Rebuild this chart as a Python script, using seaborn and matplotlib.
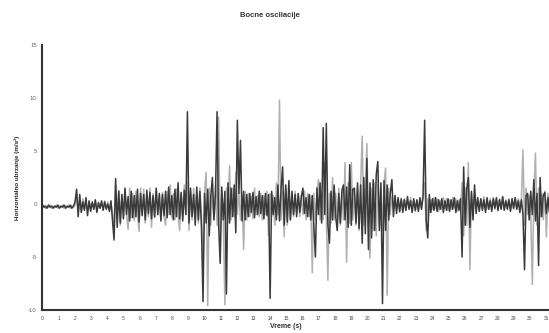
import numpy as np
import pandas as pd
import seaborn as sns
import matplotlib
matplotlib.use("Agg")
import matplotlib.pyplot as plt

# Bocne oscilacije - dva zapisa ubrzanja (tamni i svijetli)
korak = 0.096  # s, razmak uzoraka

tamni = [
    -0.1, -0.3, -0.2, -0.4, -0.1, -0.3, -0.2, -0.4, -0.2, -0.3,
    -0.1, -0.4, -0.2, -0.3, -0.1, -0.4, -0.2, -0.3, -0.1, -0.4,
    -0.2, 0.2, 1.4, -1.2, 0.9, -0.8, 0.2, -0.6, 0.6, -1.1,
    0.3, -0.7, 0.2, -0.5, 0.4, -0.8, 0.1, -0.4, 0.3, -0.6,
    0.2, -0.5, 0.0, -0.7, 0.3, -1.5, -3.4, 2.4, -2.2, 1.2,
    -1.8, 0.9, -1.4, 1.5, -1.0, 0.7, -1.6, 1.2, -1.3, 0.8,
    -1.2, 1.4, -1.7, 1.0, -1.1, 0.9, -1.5, 1.3, -0.9, 1.1,
    -1.4, 0.8, -1.2, 1.5, -1.0, 1.0, -1.6, 0.9, -1.1, 1.2,
    -1.3, 1.6, -1.0, 0.8, -1.5, 1.4, -1.2, 2.0, -1.4, 1.1,
    -1.6, 1.3, -1.0, 8.7, -1.8, 1.5, -1.2, 0.9, -2.0, 1.6,
    -1.5, 1.2, -2.2, -9.2, 1.0, -1.8, 1.4, -3.0, 0.8, 2.5,
    -1.5, 1.0, 8.7, -2.0, -5.6, 1.6, -1.5, 1.2, -8.5, 2.0,
    -1.8, 1.5, -1.2, 1.8, -2.7, 7.9, 1.0, 6.0, -1.6, 1.2,
    -1.5, 0.9, -1.2, 1.0, -0.8, 1.1, -1.3, 0.7, -1.0, 1.2,
    -0.9, 0.8, -1.4, 1.0, -1.1, 0.9, -8.9, 1.2, -1.0, 0.6,
    -1.5, 1.8, -1.6, 1.4, 3.5, -2.0, 1.8, -1.7, 2.2, -1.5,
    1.2, -1.0, 0.9, -1.2, 1.0, -0.8, 0.7, 1.5, -0.9, 0.6,
    -1.2, 0.9, -1.5, 0.8, -2.0, -5.0, 1.5, -1.0, 2.0, -1.8,
    7.2, -1.0, 7.6, -2.0, -3.7, 1.2, -1.5, 1.8, -1.2, -2.5,
    1.0, -1.8, 1.3, 1.8, -1.5, 1.6, -2.2, 3.7, -2.0, 1.4,
    1.5, -1.8, 2.0, -2.3, 1.8, -3.7, 2.5, -2.8, 4.3, -4.3,
    2.0, -3.2, 2.3, -2.5, 2.8, 4.0, -2.5, 2.0, -9.4, 2.2,
    -2.5, 1.8, -1.5, 1.0, 2.3, -1.2, 0.8, -0.9, 0.6, -0.7,
    0.5, -0.8, 0.4, -0.6, 0.7, -0.5, 0.3, -0.8, 0.5, -0.6,
    0.4, -0.7, 0.6, -0.5, 0.8, 7.9, -1.5, -3.2, 0.9, -0.8,
    0.5, -0.6, 0.6, -0.7, 0.4, -0.5, 0.5, -0.8, 0.3, -0.6,
    0.5, -0.7, 0.4, -0.5, 0.6, -0.8, 0.3, -0.6, 0.5, -5.0,
    3.5, -2.0, 1.5, 2.5, -2.2, 1.2, -1.5, 1.8, -0.9, 0.6,
    -0.7, 0.5, -0.6, 0.4, -0.8, 0.6, -0.5, 0.3, -0.7, 0.5,
    -0.4, 0.6, -0.6, 0.4, -0.5, 0.7, -0.6, 0.3, -0.5, 0.4,
    -0.7, 0.5, -0.4, 0.6, -0.5, 0.3, -0.8, 0.4, -1.0, -6.2,
    0.8, 1.0, -1.5, 1.2, -1.0, 2.3, -1.6, 1.0, -5.8, 2.5,
    -1.2, 0.8, 1.1, -0.9, 0.6, -0.8]

svijetli = [
    -0.3, -0.1, -0.4, -0.2, -0.3, -0.1, -0.4, -0.2, -0.3, -0.1,
    -0.4, -0.2, -0.3, -0.1, -0.4, -0.2, -0.3, -0.1, -0.4, -0.2,
    -0.3, -0.1, 1.0, -0.8, 0.3, -0.7, 0.5, -0.4, 0.3, -0.6,
    0.2, -0.3, 0.1, -0.5, 0.3, -0.6, 0.2, -0.4, 0.1, -0.5,
    0.3, -0.4, 0.2, -0.6, 0.1, -0.8, -2.5, 1.8, -1.5, 1.3,
    -2.0, 0.9, -1.2, 1.4, -1.0, -2.4, 1.5, -1.3, 1.0, -1.6,
    1.2, -1.0, -2.6, 1.5, -1.0, 1.4, -1.8, 0.8, -1.2, 1.5,
    -2.2, 1.0, -1.3, 1.2, -1.0, 0.8, -1.5, 1.1, -1.2, -2.0,
    1.2, -1.0, 1.8, -1.3, 1.0, -1.5, 1.4, -1.0, -2.5, 1.0,
    -1.2, 1.8, -1.0, 2.0, -2.5, 1.2, -1.5, 1.5, -1.2, 1.0,
    -1.8, 1.5, -1.0, -6.0, 1.2, 3.0, -9.6, 1.5, -2.0, 1.2,
    -1.5, 1.8, -2.0, 8.2, -3.0, 1.2, -1.5, -9.5, 1.5, -1.2,
    3.6, -1.5, 1.5, -1.2, 3.0, -1.0, 1.2, -1.5, 0.8, -4.3,
    1.2, -1.5, 1.0, -1.2, 0.7, -1.4, 1.5, -1.0, 0.8, -1.2,
    1.0, -1.5, 0.8, -1.0, 1.2, -3.0, 1.0, -1.2, 0.8, -2.0,
    2.0, -1.0, 9.8, -1.5, 1.2, -3.1, 1.5, -2.0, 1.0, -1.5,
    0.8, -1.2, 1.2, -0.8, 0.9, -1.2, 0.8, -1.0, 1.2, -1.5,
    1.0, -1.2, 0.8, -6.5, 1.0, -1.5, 1.2, 2.3, -1.5, 1.0,
    -1.5, 4.0, -1.2, -7.2, 1.0, -1.8, 2.5, -1.5, 1.0, -1.8,
    1.5, -2.0, 1.2, -1.5, 3.9, -5.5, 2.0, -1.8, 3.9, -1.5,
    1.0, -2.0, 1.5, -2.5, 2.0, 6.4, -2.0, 1.5, 5.7, -2.5,
    -5.1, 1.5, -2.5, 2.0, -3.0, 1.8, -2.0, 1.5, -2.5, 2.0,
    3.4, -8.6, 1.5, -1.0, 0.7, -0.5, 0.8, -0.4, 0.6, -0.8,
    0.4, -0.3, 0.5, -0.6, 0.4, -0.3, 0.6, -0.5, 0.4, -0.7,
    0.3, -0.5, 0.5, -0.4, 0.6, 2.0, -2.5, 0.5, -0.8, 0.4,
    -0.5, 0.6, -0.4, 0.5, -0.7, 0.3, -0.5, 0.6, -0.4, 0.5,
    -0.6, 0.4, -0.5, 0.6, -0.3, 0.5, -0.7, 0.4, -0.5, 2.0,
    -3.0, 1.5, -2.0, 3.9, -6.2, 1.0, -0.8, 0.6, -0.5, 0.4,
    -0.6, 0.5, -0.3, 0.7, -0.6, 0.4, -0.5, 0.5, -0.4, 0.6,
    -0.5, 0.4, -0.6, 0.5, -0.4, 0.6, -0.5, 0.4, -0.3, 0.5,
    -0.6, 0.4, -0.5, 0.6, -0.4, 0.5, -0.3, 0.4, 5.1, -2.0,
    1.5, -1.0, 0.8, -1.2, -7.6, 1.0, 4.8, -2.0, 1.5, -1.2,
    1.0, -1.5, 1.2, -3.1, 1.0, -0.8]

vreme = np.arange(len(tamni)) * korak

y_oznake = [15, 10, 5, 0, -5, -10]
x_oznake = list(range(0, 32))

df = pd.DataFrame({"vreme": vreme, "tamni": tamni, "svijetli": svijetli})

sns.set_style("white")
plt.rcParams["font.family"] = ["Liberation Sans", "DejaVu Sans"]

fig = plt.figure(figsize=(5.49, 3.33), dpi=100)
ax = fig.add_axes([0.077, 0.069, 0.923, 0.796])

sns.lineplot(data=df, x="vreme", y="svijetli", ax=ax, color="#b0b0b0", linewidth=1.1)
sns.lineplot(data=df, x="vreme", y="tamni", ax=ax, color="#3a3a3a", linewidth=1.1)

ax.set_xlim(0, 31.17)
ax.set_ylim(-10, 15)
ax.set_yticks(y_oznake)
ax.set_xticks(x_oznake)
ax.set_xticklabels([str(v) for v in x_oznake], fontsize=3.5, color="#444444")
ax.set_yticklabels([str(v) for v in y_oznake], fontsize=4.3, color="#666666")
ax.tick_params(axis="y", length=2, width=0.8, pad=2, colors="#333333", labelcolor="#666666")
ax.tick_params(axis="x", length=0, pad=4)

for s in ["top", "right"]:
    ax.spines[s].set_visible(False)
for s in ["left", "bottom"]:
    ax.spines[s].set_color("#333333")
    ax.spines[s].set_linewidth(1.5)

ax.set_xlabel("")
ax.set_ylabel("Horizontalno ubrzanje (m/s²)", fontsize=4.5, fontweight="bold", labelpad=6)

fig.text(0.492, 0.952, "Bocne oscilacije", ha="center", va="center",
         fontsize=5.5, fontweight="bold", color="#333333")
fig.text(0.52, 0.021, "Vreme (s)", ha="center", va="center",
         fontsize=5, fontweight="bold", color="#333333")

fig.savefig("out.png", dpi=100)
